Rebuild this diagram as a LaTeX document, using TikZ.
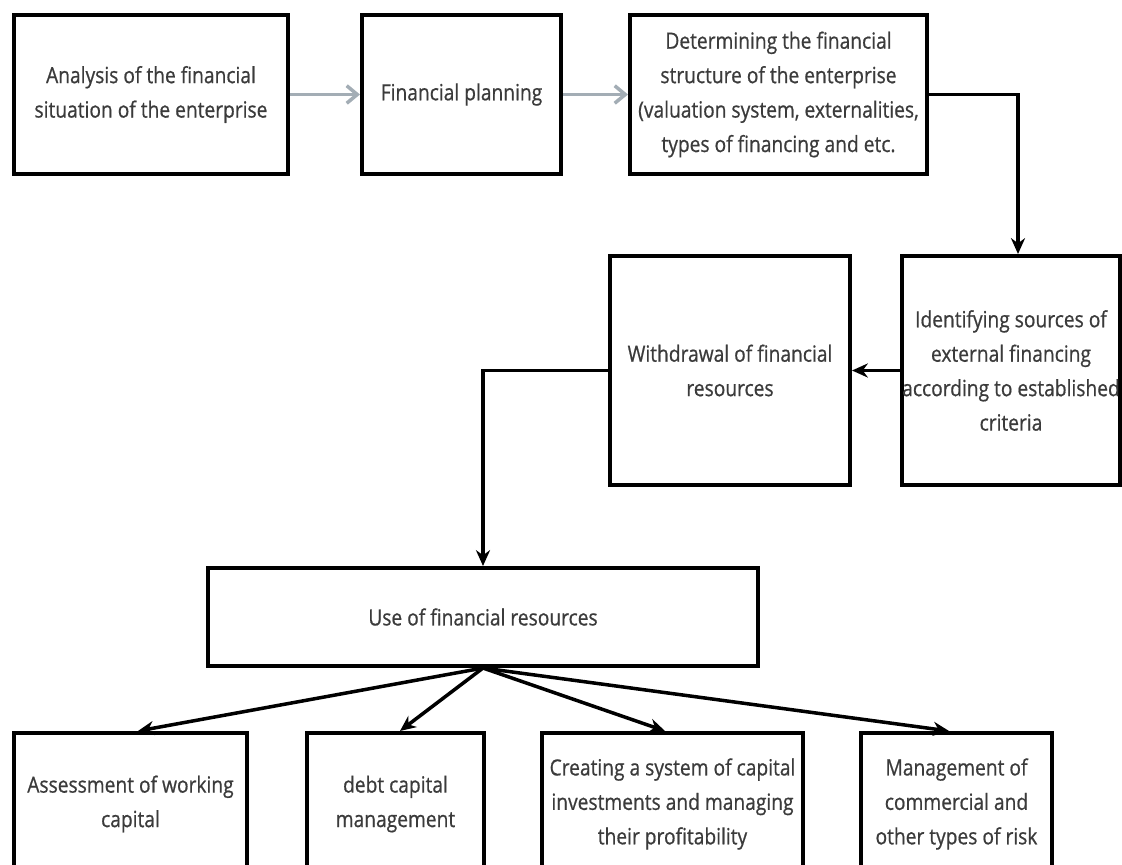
\documentclass[tikz,border=0pt]{standalone}
\usepackage{fontspec}
\setmainfont{Open Sans}[FakeStretch=0.86, FakeBold=0.7]
\usetikzlibrary{arrows.meta}
\definecolor{txtgray}{HTML}{3B3B3B}
\definecolor{flowgray}{HTML}{A3ADB5}

\begin{document}
\begin{tikzpicture}[
	stagebox/.style = {draw, line width = 2.3pt, align = center, inner sep = 0pt, text = txtgray, font = \fontsize{12.7}{19.6}\selectfont},
	flow/.style = {line width = 2pt, -{Stealth[length=9pt, width=8pt]}},
	flowlight/.style = {line width = 2pt, draw = flowgray, -{Straight Barb[length=6pt, width=10pt]}}
	]
	% Picture frame, same proportions as the source
	\useasboundingbox (0, 0) rectangle (22.44, -17.3);
	
	%% Top row %%
	\node[stagebox, minimum width = 5.48cm, minimum height = 3.18cm] (analysis) at (3.02, -1.89) {Analysis of the financial\\situation of the enterprise};
	\node[stagebox, minimum width = 3.98cm, minimum height = 3.18cm] (planning) at (9.23, -1.89) {Financial planning};
	\node[stagebox, minimum width = 5.94cm, minimum height = 3.18cm] (structure) at (15.57, -1.89) {Determining the financial\\structure of the enterprise\\(valuation system, externalities,\\types of financing and etc.};
	
	\draw[flowlight] (analysis) -- (planning);
	\draw[flowlight] (planning) -- (structure);
	
	%% Middle row %%
	\node[stagebox, minimum width = 4.36cm, minimum height = 4.58cm] (sources) at (20.22, -7.41) {Identifying sources of\\external financing\\according to established\\criteria};
	\node[stagebox, minimum width = 4.8cm, minimum height = 4.58cm] (withdrawal) at (14.6, -7.41) {Withdrawal of financial\\resources};
	
	\draw[flow] (structure.east) -| ([xshift = 0.14cm]sources.north);
	\draw[flow] (sources) -- (withdrawal);
	
	% Use of resources
	\node[stagebox, minimum width = 11cm, minimum height = 1.96cm] (use) at (9.66, -12.34) {Use of financial resources};
	\draw[flow] (withdrawal.west) -| (use.north);
	
	%% Bottom row (cut by the lower edge) %%
	\node[stagebox, minimum width = 4.66cm, minimum height = 2.84cm] (capital) at (2.61, -16.08) {Assessment of working\\capital};
	\node[stagebox, minimum width = 3.54cm, minimum height = 2.84cm] (debt) at (7.91, -16.08) {debt capital\\management};
	\node[stagebox, minimum width = 5.22cm, minimum height = 2.84cm] (invest) at (13.45, -16.08) {Creating a system of capital\\investments and managing\\their profitability};
	\node[stagebox, minimum width = 3.82cm, minimum height = 2.84cm] (risk) at (19.13, -16.08) {Management of\\commercial and\\other types of risk};
	
	\foreach \target/\dx in {capital/0.15, debt/0.09, invest/-0.15, risk/-0.15}
		\draw[flow] (use.south) -- ([xshift = \dx cm]\target.north);
	
\end{tikzpicture}
\end{document}
